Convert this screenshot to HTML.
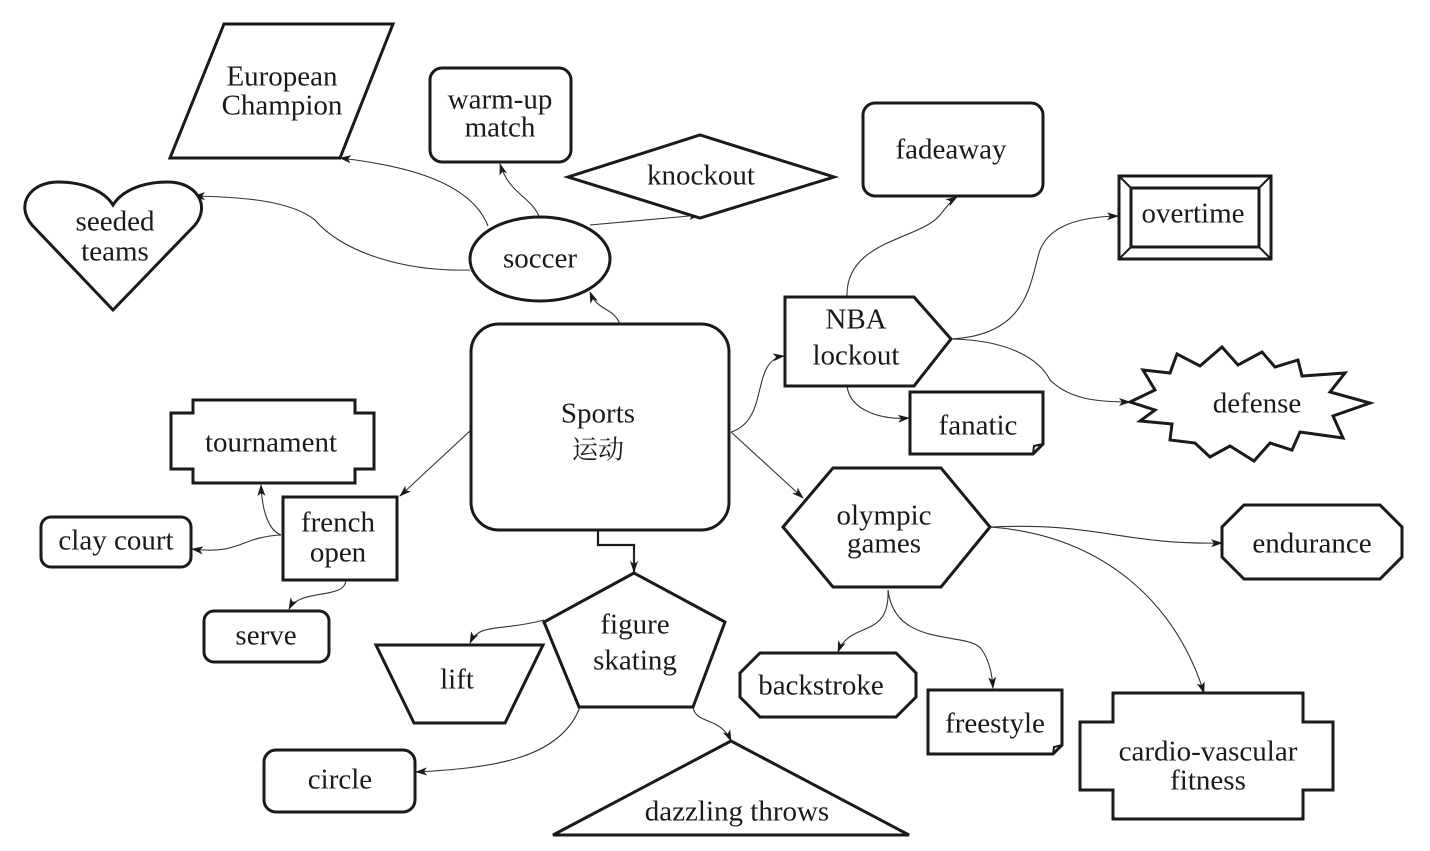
<!DOCTYPE html>
<html><head><meta charset="utf-8"><style>
html,body{margin:0;padding:0;background:#fff;}
svg{display:block;}
text{font-family:"Liberation Serif","Times New Roman",Times,serif;font-size:29px;fill:#1a1a1a;text-anchor:middle;dominant-baseline:middle;}
text.cjk{font-family:"Noto Serif CJK SC","Noto Sans CJK SC",serif;font-size:26px;}
.s{fill:#fff;stroke:#1a1a1a;stroke-width:3;stroke-linejoin:miter;}
.c{fill:none;stroke:#333;stroke-width:1.1;marker-end:url(#a);}
</style></head><body>
<svg width="1430" height="851" viewBox="0 0 1430 851" xmlns="http://www.w3.org/2000/svg">
<defs><marker id="a" viewBox="0 0 12 8" refX="11" refY="4" markerWidth="12" markerHeight="8" markerUnits="userSpaceOnUse" orient="auto"><path d="M0,0 L12,4 L0,8 L3,4 z" fill="#1a1a1a"/></marker></defs>

<path class="c" d="M620,324 C612,306 598,312 590,292"/>
<path class="c" d="M488,226 C470,180 400,165 340,158"/>
<path class="c" d="M540,218 C530,195 510,195 500,164"/>
<path class="c" d="M590,225 L700,215"/>
<path class="c" d="M470,270 C400,272 340,250 315,220 C290,200 240,197 194,196"/>
<path class="c" d="M731,432 C770,420 750,360 784,356"/>
<path class="c" d="M731,432 L803,498"/>
<path class="c" d="M471,430 L400,496"/>
<path d="M598,531 L598,545 L634,545 L634,572" fill="none" stroke="#1a1a1a" stroke-width="2.2"/>
<path class="c" d="M634,550 L634,572"/>
<path class="c" d="M847,297 C845,240 920,240 940,215 C948,205 952,200 957,197"/>
<path class="c" d="M951,339 C1030,335 1030,280 1040,250 C1050,225 1080,217 1118,216"/>
<path class="c" d="M951,339 C1010,340 1040,360 1050,380 C1070,400 1100,402 1130,402"/>
<path class="c" d="M847,386 C850,410 880,420 909,418"/>
<path class="c" d="M281,535 C268,530 262,510 261,485"/>
<path class="c" d="M281,535 C240,537 240,555 192,549"/>
<path class="c" d="M346,580 C345,600 300,588 289,609"/>
<path class="c" d="M544,620 C500,632 480,622 470,643"/>
<path class="c" d="M580,707 C560,760 490,768 416,772"/>
<path class="c" d="M693,707 C696,725 720,716 731,741"/>
<path class="c" d="M888,590 C890,640 850,620 838,652"/>
<path class="c" d="M888,590 C895,650 970,630 982,650 C990,662 992,675 993,688"/>
<path class="c" d="M990,527 C1100,522 1120,545 1222,543"/>
<path class="c" d="M990,527 C1100,535 1175,600 1204,693"/>

<polygon class="s" points="224,24 393,24 340,158 170,158"/>
<text x="282" y="79">European</text><text x="282" y="108">Champion</text>

<rect class="s" x="430" y="68" width="141" height="94" rx="12"/>
<text x="500" y="102">warm-up</text><text x="500" y="130">match</text>

<polygon class="s" points="568,177 700,135 834,177 700,218"/>
<text x="701" y="178">knockout</text>

<path class="s" d="M113,310 L32,225 C15,205 30,182 58,182 C85,182 105,192 113,205 C121,192 140,182 168,182 C196,182 211,205 195,225 Z"/>
<text x="115" y="224">seeded</text><text x="115" y="254">teams</text>

<ellipse class="s" cx="540" cy="259" rx="70" ry="42"/>
<text x="540" y="261">soccer</text>

<rect class="s" x="471" y="324" width="258" height="206" rx="28"/>
<text x="598" y="416">Sports</text><text class="cjk" x="598" y="452">运动</text>

<rect class="s" x="863" y="103" width="180" height="93" rx="12"/>
<text x="951" y="152">fadeaway</text>

<rect class="s" x="1119" y="176" width="152" height="83"/>
<rect class="s" x="1131" y="188" width="128" height="59"/>
<path d="M1119,176 L1131,188 M1271,176 L1259,188 M1119,259 L1131,247 M1271,259 L1259,247" stroke="#1a1a1a" stroke-width="2"/>
<text x="1193" y="216">overtime</text>

<polygon class="s" points="785,297 914,297 951,339 914,386 785,386"/>
<text x="856" y="322">NBA</text><text x="856" y="358">lockout</text>

<path class="s" d="M910,392 L1043,392 L1043,444 L1033,454 L910,454 Z"/>
<path d="M1033,454 L1034,446 L1043,444" fill="none" stroke="#1a1a1a" stroke-width="2"/>
<text x="978" y="428">fanatic</text>

<polygon class="s" points="1130,402 1155,390 1143,370 1170,373 1177,354 1200,366 1222,347 1238,365 1262,352 1275,367 1298,360 1302,376 1345,373 1330,392 1370,403 1333,416 1343,438 1300,432 1292,450 1270,443 1254,461 1230,446 1210,457 1195,443 1170,440 1172,424 1140,421 1155,410"/>
<text x="1257" y="406">defense</text>

<polygon class="s" points="783,527 833,468 941,468 990,527 941,587 833,587"/>
<text x="884" y="518">olympic</text><text x="884" y="546">games</text>

<polygon class="s" points="1244,505 1380,505 1402,527 1402,557 1380,579 1244,579 1222,557 1222,527"/>
<text x="1312" y="546">endurance</text>

<polygon class="s" points="760,653 896,653 916,673 916,697 896,717 760,717 740,697 740,673"/>
<text x="821" y="688">backstroke</text>

<path class="s" d="M928,690 L1062,690 L1062,745 L1053,754 L928,754 Z"/>
<path d="M1053,754 L1054,747 L1062,745" fill="none" stroke="#1a1a1a" stroke-width="2"/>
<text x="995" y="726">freestyle</text>

<polygon class="s" points="1113,693 1303,693 1303,722 1333,722 1333,790 1303,790 1303,819 1113,819 1113,790 1080,790 1080,722 1113,722"/>
<text x="1208" y="754">cardio-vascular</text><text x="1208" y="783">fitness</text>

<polygon class="s" points="193,400 355,400 355,413 374,413 374,469 355,469 355,483 193,483 193,469 171,469 171,413 193,413"/>
<text x="271" y="445">tournament</text>

<rect class="s" x="283" y="497" width="114" height="83"/>
<text x="338" y="525">french</text><text x="338" y="555">open</text>

<rect class="s" x="41" y="517" width="150" height="50" rx="10"/>
<text x="116" y="543">clay court</text>

<rect class="s" x="204" y="611" width="125" height="51" rx="10"/>
<text x="266" y="638">serve</text>

<polygon class="s" points="634,573 725,622 693,707 579,707 544,622"/>
<text x="635" y="627">figure</text><text x="635" y="663">skating</text>

<polygon class="s" points="376,645 543,645 505,723 414,723"/>
<text x="457" y="682">lift</text>

<rect class="s" x="264" y="750" width="151" height="62" rx="12"/>
<text x="340" y="782">circle</text>

<polygon class="s" points="553,835 731,741 909,835"/>
<text x="737" y="814">dazzling throws</text>
</svg>
</body></html>
